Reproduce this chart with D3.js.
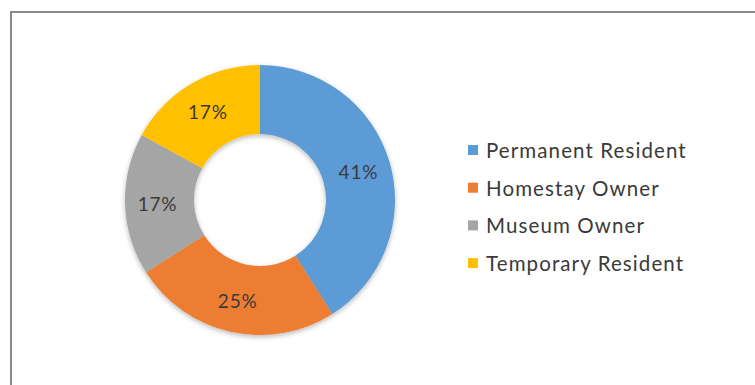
<!DOCTYPE html>
<html>
<head>
<meta charset="utf-8">
<script src="https://cdn.jsdelivr.net/npm/d3@7"></script>
<style>
  html, body { margin: 0; padding: 0; background: #ffffff; }
  svg { display: block; }
  text { font-family: Lato, "Open Sans", "DejaVu Sans", sans-serif; }
</style>
</head>
<body>
<svg id="chart" width="755" height="385"></svg>
<script>
// Respondent groups and their share of the sample (%)
const categories = ["Permanent Resident", "Homestay Owner", "Museum Owner", "Temporary Resident"];
const shares = [41, 25, 17, 17];
const colors = ["#5B9BD5", "#ED7D31", "#A5A5A5", "#FFC000"];

const svg = d3.select("#chart");

// Chart frame (runs off the right and bottom edges)
svg.append("rect")
  .attr("x", 11).attr("y", 12)
  .attr("width", 800).attr("height", 420)
  .attr("fill", "#ffffff")
  .attr("stroke", "#8a8a8a")
  .attr("stroke-width", 2);

// Soft drop shadow under the ring
const defs = svg.append("defs");
const shadow = defs.append("filter").attr("id", "ringShadow")
  .attr("x", "-20%").attr("y", "-20%").attr("width", "140%").attr("height", "140%");
shadow.append("feDropShadow")
  .attr("dx", 0).attr("dy", 2).attr("stdDeviation", 2.5)
  .attr("flood-color", "#000").attr("flood-opacity", 0.28);

const cx = 260, cy = 200;
const outerR = 135, innerR = 66;

const data = categories.map((c, i) => ({ name: c, value: shares[i], color: colors[i] }));

const pie = d3.pie().value(d => d.value).sort(null);
const arc = d3.arc().innerRadius(innerR).outerRadius(outerR);
const labelArc = d3.arc().innerRadius((innerR + outerR) / 2 + 2).outerRadius((innerR + outerR) / 2 + 2);

const ring = svg.append("g").attr("transform", `translate(${cx},${cy})`);

ring.append("g").attr("filter", "url(#ringShadow)")
  .selectAll("path")
  .data(pie(data))
  .join("path")
  .attr("d", arc)
  .attr("fill", d => d.data.color);

ring.selectAll("text.pct")
  .data(pie(data))
  .join("text")
  .attr("class", "pct")
  .attr("transform", d => `translate(${labelArc.centroid(d)})`)
  .attr("text-anchor", "middle")
  .attr("dominant-baseline", "central")
  .attr("font-size", 19)
  .attr("letter-spacing", 0.8)
  .attr("fill", "#3a3a3a")
  .text(d => d.data.value + "%");

// Legend
const legendX = 468, legendY = 150, rowGap = 37.7;
const legend = svg.append("g");
const rows = legend.selectAll("g")
  .data(data)
  .join("g")
  .attr("transform", (d, i) => `translate(${legendX},${legendY + i * rowGap})`);

rows.append("rect")
  .attr("x", 0).attr("y", -5)
  .attr("width", 10).attr("height", 10)
  .attr("fill", d => d.color);

rows.append("text")
  .attr("x", 18)
  .attr("y", 0)
  .attr("dominant-baseline", "central")
  .attr("font-size", 20.5)
  .attr("letter-spacing", 1.1)
  .attr("fill", "#3a3a3a")
  .text(d => d.name);
</script>
</body>
</html>
